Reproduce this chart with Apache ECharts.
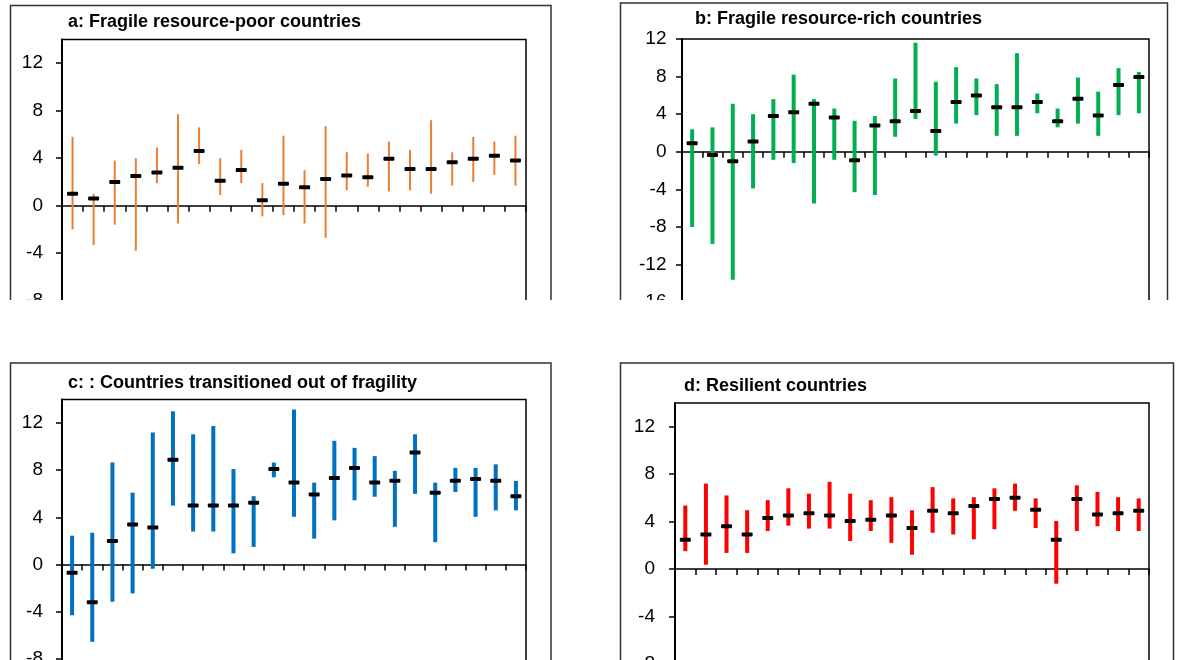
<!DOCTYPE html>
<html>
<head>
<meta charset="utf-8">
<script src="https://cdn.jsdelivr.net/npm/echarts@6/dist/echarts.min.js"></script>
<style>
html,body{margin:0;padding:0;background:#fff;}
#chart{width:1177px;height:660px;}
</style>
</head>
<body>
<div id="chart"></div>
<script>
// ---- data ----
const titleA = 'a: Fragile resource-poor countries';
const titleB = 'b: Fragile resource-rich countries';
const titleC = 'c: : Countries transitioned out of fragility';
const titleD = 'd: Resilient countries';

const catsA = Array.from({length: 22}, (_, i) => String(i + 1));
const catsB = Array.from({length: 23}, (_, i) => String(i + 1));
const catsC = Array.from({length: 23}, (_, i) => String(i + 1));
const catsD = Array.from({length: 23}, (_, i) => String(i + 1));

const lowA  = [-2.0, -3.3, -1.6, -3.8, 1.9, -1.5, 3.5, 0.9, 1.9, -0.9, -0.8, -1.5, -2.7, 1.3, 1.6, 1.2, 1.3, 1.0, 1.7, 2.0, 2.6, 1.7];
const highA = [5.8, 1.0, 3.8, 4.0, 4.9, 7.7, 6.6, 4.0, 4.7, 1.9, 5.9, 3.0, 6.7, 4.5, 4.4, 5.4, 4.7, 7.2, 4.5, 5.8, 5.4, 5.9];
const medA  = [1.0, 0.6, 2.0, 2.5, 2.8, 3.2, 4.6, 2.1, 3.0, 0.45, 1.85, 1.55, 2.25, 2.55, 2.4, 3.95, 3.1, 3.1, 3.65, 3.95, 4.2, 3.8];

const lowB  = [-8.0, -9.8, -13.6, -3.9, -0.85, -1.2, -5.5, -0.85, -4.3, -4.6, 1.6, 3.5, -0.4, 3.0, 3.9, 1.7, 1.7, 4.1, 2.6, 3.0, 1.7, 3.9, 4.1];
const highB = [2.4, 2.6, 5.1, 4.0, 5.6, 8.2, 5.6, 4.6, 3.3, 3.8, 7.8, 11.6, 7.45, 9.0, 7.8, 7.2, 10.5, 6.2, 4.6, 7.9, 6.4, 8.9, 8.5];
const medB  = [0.9, -0.35, -1.0, 1.1, 3.8, 4.2, 5.1, 3.65, -0.9, 2.8, 3.25, 4.35, 2.2, 5.3, 6.0, 4.75, 4.75, 5.3, 3.25, 5.65, 3.85, 7.1, 7.95];

const lowC  = [-4.3, -6.55, -3.15, -2.45, -0.35, 5.0, 2.8, 2.8, 0.95, 1.5, 7.4, 4.05, 2.2, 3.75, 5.45, 5.75, 3.2, 6.0, 1.9, 6.15, 4.05, 4.6, 4.6];
const highC = [2.45, 2.7, 8.65, 6.1, 11.2, 13.0, 11.05, 11.75, 8.1, 5.8, 8.65, 13.15, 6.95, 10.5, 9.9, 9.2, 7.95, 11.05, 6.95, 8.2, 8.2, 8.5, 7.1];
const medC  = [-0.7, -3.2, 2.0, 3.4, 3.15, 8.9, 5.0, 5.0, 5.0, 5.25, 8.1, 6.95, 5.95, 7.35, 8.2, 6.95, 7.1, 9.5, 6.1, 7.1, 7.25, 7.1, 5.8];

const lowD  = [1.5, 0.35, 1.35, 1.35, 3.2, 3.65, 3.4, 3.4, 2.35, 3.2, 2.2, 1.2, 3.05, 2.9, 2.5, 3.35, 4.9, 3.45, -1.25, 3.2, 3.6, 3.2, 3.2];
const highD = [5.35, 7.2, 6.2, 4.95, 5.8, 6.8, 6.35, 7.35, 6.35, 5.8, 6.05, 4.95, 6.9, 5.95, 6.05, 6.8, 7.2, 5.95, 4.05, 7.05, 6.5, 6.05, 5.95];
const medD  = [2.45, 2.9, 3.6, 2.9, 4.3, 4.5, 4.7, 4.5, 4.05, 4.15, 4.5, 3.45, 4.9, 4.7, 5.3, 5.9, 6.0, 5.0, 2.45, 5.9, 4.6, 4.7, 4.9];

const ticksA = [-12, -8, -4, 0, 4, 8, 12];
const ticksB = [-20, -16, -12, -8, -4, 0, 4, 8, 12];
const ticksCD = [-16, -12, -8, -4, 0, 4, 8, 12];

// ---- chart ----
const FONT = "'Liberation Sans', Arial, sans-serif";
const chart = echarts.init(document.getElementById('chart'), null, {renderer: 'canvas'});

function rows(cats, lo, hi, md) {
  return cats.map((c, i) => [i, lo[i], hi[i], md[i]]);
}
function makeRender(color, barW) {
  return function (params, api) {
    const idx = api.value(0);
    const x = api.coord([idx, 0])[0];
    const yl = api.coord([idx, api.value(1)])[1];
    const yh = api.coord([idx, api.value(2)])[1];
    const ym = api.coord([idx, api.value(3)])[1];
    return {
      type: 'group',
      children: [
        {type: 'rect', shape: {x: x - barW / 2, y: yh, width: barW, height: yl - yh}, style: {fill: color}},
        {type: 'rect', shape: {x: x - 5.5, y: ym - 2, width: 11, height: 4, r: 1}, style: {fill: '#000'}, z2: 10}
      ]
    };
  };
}

const grids = [
  {left: 62, top: 39.5, width: 464, height: 26 * 11.87},
  {left: 682, top: 39, width: 467, height: 32 * 9.40},
  {left: 62, top: 399.5, width: 464, height: 30 * 11.79},
  {left: 675, top: 403, width: 474, height: 30 * 11.85}
].map(g => Object.assign(g, {show: true, borderColor: '#000', borderWidth: 1.5, backgroundColor: 'transparent',
  containLabel: false, outerBoundsMode: 'none'}));

function xAxisFor(i, cats) {
  return {
    type: 'category', gridIndex: i, data: cats, boundaryGap: true,
    axisLine: {show: true, onZero: true, lineStyle: {color: '#000', width: 1.5}},
    axisTick: {show: true, length: 6, lineStyle: {color: '#000', width: 1.5}},
    axisLabel: {show: false},
    splitLine: {show: false}
  };
}
function yAxisFor(i, min, max, ticks, margin) {
  return {
    type: 'value', gridIndex: i, min: min, max: max, interval: 4,
    axisLine: {show: true, onZero: false, lineStyle: {color: '#000', width: 2}},
    axisTick: {show: true, length: 6, inside: false, customValues: ticks, lineStyle: {color: '#000', width: 1.5}},
    axisLabel: {show: true, customValues: ticks, margin: margin, color: '#000', fontSize: 19, fontFamily: FONT},
    splitLine: {show: false}
  };
}

const frameStyle = {stroke: '#333', lineWidth: 1.5, fill: 'none'};
function titleText(txt, x, y) {
  return {type: 'text', x: x, y: y, z: 50,
    style: {text: txt, fill: '#000', font: "bold 18px " + FONT, textAlign: 'left', textVerticalAlign: 'middle'}};
}

const option = {
  backgroundColor: '#fff',
  animation: false,
  grid: grids,
  xAxis: [xAxisFor(0, catsA), xAxisFor(1, catsB), xAxisFor(2, catsC), xAxisFor(3, catsD)],
  yAxis: [
    yAxisFor(0, -12, 14, ticksA, 19),
    yAxisFor(1, -20, 12, ticksB, 15.5),
    yAxisFor(2, -16, 14, ticksCD, 19),
    yAxisFor(3, -16, 14, ticksCD, 20)
  ],
  series: [
    {type: 'custom', xAxisIndex: 0, yAxisIndex: 0, renderItem: makeRender('#ED7D31', 2), data: rows(catsA, lowA, highA, medA), encode: {x: 0, y: [1, 2, 3]}},
    {type: 'custom', xAxisIndex: 1, yAxisIndex: 1, renderItem: makeRender('#00B050', 4), data: rows(catsB, lowB, highB, medB), encode: {x: 0, y: [1, 2, 3]}},
    {type: 'custom', xAxisIndex: 2, yAxisIndex: 2, renderItem: makeRender('#0070C0', 4), data: rows(catsC, lowC, highC, medC), encode: {x: 0, y: [1, 2, 3]}},
    {type: 'custom', xAxisIndex: 3, yAxisIndex: 3, renderItem: makeRender('#FF0000', 4), data: rows(catsD, lowD, highD, medD), encode: {x: 0, y: [1, 2, 3]}}
  ],
  graphic: [
    {type: 'rect', z: 40, shape: {x: 10.5, y: 5.5, width: 540.5, height: 340}, style: frameStyle},
    {type: 'rect', z: 40, shape: {x: 620.5, y: 3, width: 547, height: 340}, style: frameStyle},
    {type: 'rect', z: 40, shape: {x: 10.5, y: 363, width: 540.5, height: 400}, style: frameStyle},
    {type: 'rect', z: 40, shape: {x: 620.5, y: 363, width: 553, height: 400}, style: frameStyle},
    {type: 'rect', z: 100, shape: {x: 0, y: 300, width: 1177, height: 61.5}, style: {fill: '#fff'}},
    titleText(titleA, 68, 22.5),
    titleText(titleB, 695, 19),
    titleText(titleC, 68, 383),
    titleText(titleD, 684, 386.5)
  ]
};
chart.setOption(option);
</script>
</body>
</html>
